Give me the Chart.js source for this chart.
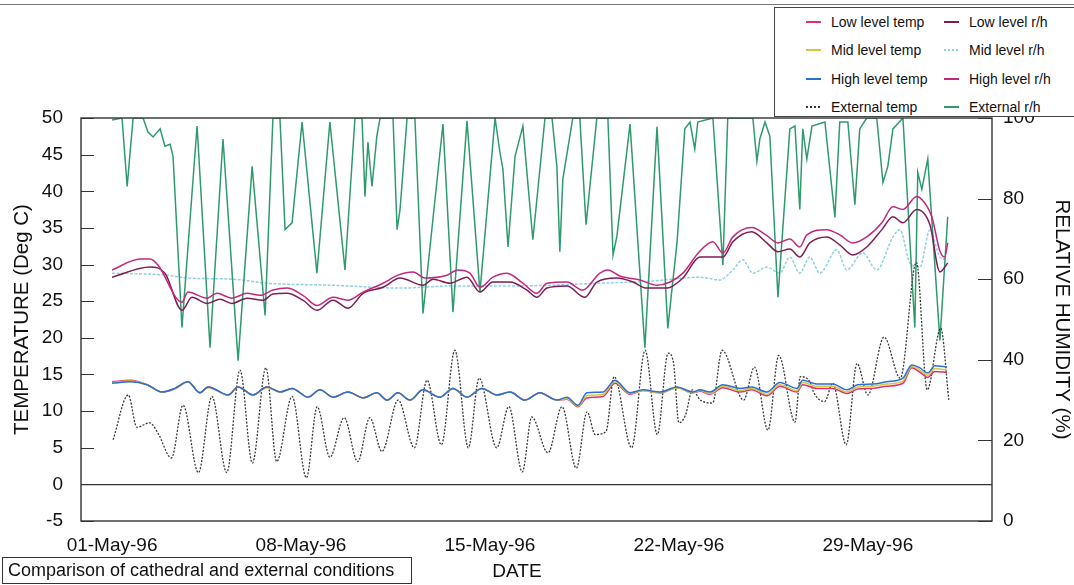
<!DOCTYPE html>
<html>
<head>
<meta charset="utf-8">
<title>Cathedral and external conditions</title>
<script src="https://cdn.jsdelivr.net/npm/chart.js@4.4.1/dist/chart.umd.min.js"></script>
<style>
  html, body { margin: 0; padding: 0; background: #fff; }
  #wrap { position: relative; width: 1074px; height: 585px; overflow: hidden;
          font-family: "Liberation Sans", Arial, sans-serif; color: #111; }
  #topRule { position: absolute; left: 0; top: 4px; width: 1074px; border-top: 1px solid #777; }
  #legend { position: absolute; left: 774px; top: 7px; width: 320px; height: 108px;
            background: #fff; border: 1px solid #444; font-size: 14px; }
  .item { position: absolute; white-space: nowrap; height: 16px; line-height: 16px; }
  .swatch { position: absolute; left: 0; top: 7px; width: 15px; height: 2px; }
  .txt { position: absolute; left: 25px; top: 0; }
  #dateTitle { position: absolute; left: 517px; top: 571px; transform: translate(-50%, -50%);
               font-size: 19px; }
  #caption { position: absolute; left: 2px; top: 557px; width: 410px; height: 27px;
             border: 1px solid #333; box-sizing: border-box; padding-left: 5px;
             font-size: 18px; line-height: 25px; white-space: nowrap; }
</style>
</head>
<body>
<div id="wrap">
  <canvas id="chart" width="1074" height="585"></canvas>
  <div id="topRule"></div>
  <div id="legend"></div>
  <div id="dateTitle">DATE</div>
  <div id="caption">Comparison of cathedral and external conditions</div>
</div>
<script>
// x values are days since 01-May-96 00:00
const dateLabels = ['01-May-96', '08-May-96', '15-May-96', '22-May-96', '29-May-96'];
const labelDays  = [0, 7, 14, 21, 28];

// cathedral air temperatures (deg C)
const cathTempDays = [0, 0.67, 1.3, 1.85, 2.33, 2.81, 3.26, 3.56, 4.3, 4.67,
  5.22, 5.74, 6.22, 6.67, 7.26, 7.7, 8.19, 8.74, 9.3, 9.81,
  10.19, 10.59, 11.04, 11.52, 12.15, 12.63, 13.15, 13.7, 14.26, 14.74,
  15.3, 15.85, 16.48, 16.85, 17.26, 17.59, 18.19, 18.63, 19.19, 19.67,
  20.3, 20.93, 21.52, 21.78, 22.15, 22.63, 23.26, 23.7, 24.26, 24.74,
  25.37, 25.59, 26.11, 26.7, 27.22, 27.63, 28.19, 28.7, 29.3, 29.63,
  29.93, 30.22, 30.48, 30.93];
const highTemp = [13.8, 14.0, 13.6, 12.6, 13.1, 14.0, 12.5, 13.3, 12.2, 13.3,
  12.2, 13.3, 12.6, 13.1, 11.9, 12.9, 11.9, 12.6, 11.8, 12.5,
  11.5, 12.5, 11.5, 12.9, 11.9, 13.1, 11.9, 13.1, 12.2, 12.6,
  11.5, 12.5, 11.5, 11.9, 10.8, 12.5, 12.6, 14.2, 12.5, 12.9,
  12.6, 13.3, 12.6, 12.9, 12.6, 13.6, 13.1, 13.3, 12.6, 13.9,
  13.1, 14.2, 13.7, 13.7, 12.9, 13.6, 13.7, 14.0, 14.5, 16.3,
  15.9, 15.2, 16.2, 16.0];
const midTemp = [13.9, 14.1, 13.6, 12.6, 13.0, 14.0, 12.5, 13.2, 12.2, 13.3,
  12.2, 13.2, 12.6, 13.1, 11.9, 12.9, 11.9, 12.6, 11.8, 12.5,
  11.5, 12.5, 11.5, 12.9, 11.9, 13.1, 11.9, 13.1, 12.2, 12.6,
  11.5, 12.5, 11.5, 11.7, 10.7, 12.1, 12.3, 14.0, 12.4, 12.8,
  12.5, 13.2, 12.5, 12.8, 12.4, 13.4, 12.8, 13.1, 12.3, 13.6,
  12.8, 13.9, 13.4, 13.4, 12.6, 13.3, 13.4, 13.7, 14.1, 16.1,
  15.6, 14.9, 15.8, 15.6];
const lowTemp = [14.0, 14.2, 13.6, 12.6, 13.1, 14.0, 12.5, 13.3, 12.2, 13.3,
  12.2, 13.3, 12.6, 13.1, 11.9, 12.9, 11.9, 12.6, 11.8, 12.5,
  11.5, 12.5, 11.5, 12.9, 11.9, 13.1, 11.9, 13.1, 12.2, 12.6,
  11.5, 12.5, 11.5, 11.6, 10.6, 11.8, 12.0, 13.8, 12.3, 12.8,
  12.5, 13.2, 12.5, 12.7, 12.3, 13.2, 12.6, 12.9, 12.1, 13.4,
  12.6, 13.6, 13.1, 13.1, 12.4, 13.0, 13.1, 13.4, 13.8, 15.9,
  15.3, 14.6, 15.4, 15.3];

// external air temperature (deg C)
const extTempDays = [0.04, 0.6, 0.92, 1.4, 1.7, 2.2, 2.63, 3.2, 3.7, 4.25,
  4.74, 5.2, 5.7, 6.1, 6.67, 7.2, 7.6, 8.07, 8.6, 9.1,
  9.55, 10.0, 10.6, 11.2, 11.67, 12.2, 12.7, 13.2, 13.6, 14.25,
  14.7, 15.2, 15.55, 16.15, 16.67, 17.2, 17.6, 17.9, 18.3, 18.6,
  19.25, 19.75, 20.2, 20.6, 20.8, 21.0, 21.25, 21.5, 21.8, 22.25,
  22.6, 23.4, 23.8, 24.3, 24.7, 25.3, 25.5, 25.85, 26.0, 26.4,
  26.7, 27.2, 27.6, 28.0, 28.6, 29.2, 29.8, 30.2, 30.7, 31.0];
const extTemp = [6.1, 12.2, 7.8, 8.4, 7.0, 3.6, 10.8, 1.6, 12.0, 1.6,
  15.6, 2.9, 15.9, 3.1, 12.0, 0.9, 10.6, 3.7, 9.1, 3.1,
  9.1, 4.5, 11.5, 5.0, 14.2, 5.4, 18.3, 5.0, 14.5, 5.0,
  10.6, 1.7, 9.2, 4.3, 10.6, 2.2, 9.9, 6.8, 7.2, 14.7,
  5.0, 18.3, 6.8, 17.9, 16.6, 8.4, 9.5, 12.9, 11.5, 11.1,
  18.3, 11.5, 16.0, 7.4, 17.6, 8.5, 14.7, 14.0, 12.5, 11.3,
  13.8, 5.4, 16.5, 12.2, 20.1, 14.5, 30.3, 12.9, 21.3, 11.5];

// cathedral relative humidity (%)
const highRhDays = [0, 1.04, 1.41, 1.7, 2.59, 2.81, 3.52, 3.89, 4.44, 5.0,
  5.48, 5.96, 6.48, 7.07, 7.59, 8.19, 8.74, 9.3, 10.04, 10.59,
  11.15, 11.59, 12.41, 12.81, 13.26, 13.63, 14.11, 14.63, 15.22, 15.74,
  16.11, 16.85, 17.44, 18.07, 18.37, 18.81, 19.56, 20.19, 20.67, 21.15,
  21.78, 22.26, 22.63, 23.0, 23.7, 24.26, 24.67, 25.11, 25.48, 25.74,
  26.48, 26.96, 27.44, 27.96, 28.52, 28.93, 29.3, 29.81, 30.0, 30.37,
  30.67, 30.85, 30.96];
const highRh = [62.3, 65.0, 65.0, 63.5, 54.3, 56.8, 55.3, 56.5, 55.3, 56.5,
  56.0, 57.3, 57.8, 56.0, 53.5, 55.5, 54.8, 56.8, 59.0, 61.0,
  61.8, 60.3, 61.0, 62.3, 61.5, 58.0, 60.5, 61.5, 59.0, 56.5,
  59.0, 59.3, 57.3, 61.5, 62.3, 60.8, 59.8, 58.5, 59.3, 61.5,
  67.0, 69.3, 66.5, 70.5, 72.8, 70.8, 69.0, 70.0, 68.0, 71.0,
  72.3, 71.0, 69.0, 70.5, 74.0, 78.0, 77.3, 80.5, 79.8, 75.5,
  67.0, 65.5, 69.0];

const lowRhDays = [0, 1.41, 1.96, 2.59, 2.96, 3.52, 4.0, 4.44, 5.0, 5.59,
  5.96, 6.48, 7.07, 7.59, 8.19, 8.74, 9.3, 10.04, 10.67, 11.52,
  11.89, 12.52, 13.15, 13.63, 14.11, 14.74, 15.37, 15.74, 16.11, 16.85,
  17.52, 17.96, 18.7, 19.3, 19.81, 20.56, 21.15, 21.78, 22.63, 23.0,
  23.7, 24.26, 24.67, 25.11, 25.48, 25.85, 26.48, 26.96, 27.44, 27.96,
  28.52, 28.93, 29.3, 29.81, 30.3, 30.67, 30.96];
const lowRh = [60.5, 63.0, 61.5, 52.3, 55.5, 54.0, 55.0, 54.0, 55.3, 54.8,
  56.3, 56.5, 54.8, 52.3, 54.8, 52.8, 56.5, 58.0, 60.3, 58.5,
  60.0, 59.0, 60.5, 56.8, 59.3, 59.3, 57.3, 55.5, 57.8, 58.3,
  55.5, 59.3, 60.3, 59.3, 57.8, 57.8, 60.3, 65.5, 65.5, 69.3,
  71.8, 69.0, 66.8, 67.5, 65.5, 69.0, 70.5, 68.5, 66.0, 68.0,
  72.3, 75.5, 74.0, 77.3, 73.5, 61.8, 64.0];

const midRhDays = [0, 2.04, 2.78, 4.48, 5.74, 8.19, 10.67, 12.52, 14.37, 16.2,
  18.07, 19.93, 21.78, 22.52, 23.0, 23.37, 23.74, 24.26, 24.74, 25.11,
  25.48, 25.85, 26.22, 26.85, 27.22, 27.81, 28.33, 28.93, 29.19, 29.56,
  29.93, 30.3, 30.67, 30.96];
const midRh = [61.5, 61.0, 60.3, 60.0, 59.0, 58.5, 57.8, 58.3, 58.3, 58.5,
  59.0, 59.5, 60.5, 59.8, 62.3, 64.8, 61.5, 63.0, 61.5, 65.5,
  61.5, 65.5, 61.5, 67.3, 62.3, 66.5, 62.3, 70.5, 72.3, 64.0,
  63.0, 72.3, 65.5, 64.8];

// external relative humidity (%)
const extRhDays = [0, 0.37, 0.56, 0.78, 1.15, 1.33, 1.52, 1.78, 1.96, 2.15,
  2.26, 2.59, 3.15, 3.63, 4.11, 4.67, 5.19, 5.67, 5.96, 6.22,
  6.41, 6.67, 7.04, 7.59, 8.07, 8.63, 9.0, 9.26, 9.37, 9.48,
  9.63, 9.81, 9.93, 10.41, 10.56, 10.67, 10.93, 11.22, 11.52, 12.26,
  12.63, 13.15, 13.63, 14.19, 14.37, 14.48, 14.67, 14.93, 15.22, 15.59,
  16.04, 16.3, 16.48, 16.59, 16.7, 17.07, 17.33, 17.56, 17.96, 18.37,
  18.56, 18.7, 19.19, 19.74, 20.19, 20.59, 20.74, 20.93, 21.22, 21.41,
  21.59, 21.7, 22.26, 22.63, 22.81, 23.74, 23.89, 24.0, 24.19, 24.37,
  24.67, 25.11, 25.3, 25.48, 25.59, 25.74, 25.93, 26.41, 26.78, 26.96,
  27.26, 27.52, 27.7, 27.96, 28.33, 28.56, 28.74, 28.93, 29.3, 29.74,
  29.85, 30.0, 30.22, 30.67, 30.96];
const extRh = [99.5, 100, 83, 100, 100, 96.5, 95.3, 97.3, 93, 93.5,
  90.5, 48, 98, 43, 94.8, 39.8, 88, 51, 100, 100,
  72.3, 74, 99, 61.5, 99, 62.3, 100, 100, 80.5, 94,
  83, 95.5, 100, 100, 72.3, 77.3, 100, 100, 51.5, 98.5,
  51.8, 99.3, 56.8, 100, 91.5, 87.3, 68, 90.5, 98, 69.8,
  100, 100, 88, 66.8, 84.8, 100, 100, 73.5, 100, 100,
  66, 70.5, 98.5, 43, 97.8, 47.8, 57.3, 69, 97.3, 99,
  92.3, 99, 100, 63.5, 100, 100, 89.3, 94.8, 99, 95.5,
  55.5, 97.3, 98, 77.3, 97.3, 89.8, 98, 99, 75.3, 99,
  99, 78.5, 97.3, 100, 100, 84, 88, 97.3, 100, 48,
  86.5, 82.3, 89.8, 44.8, 75.5];

function pts(days, vals) {
  return days.map((d, i) => ({ x: d, y: vals[i] }));
}

function line(label, days, vals, color, axis, extra) {
  return Object.assign({
    label, data: pts(days, vals), yAxisID: axis,
    borderColor: color, backgroundColor: color,
    borderWidth: 1.5, pointRadius: 0, fill: false,
    cubicInterpolationMode: 'monotone'
  }, extra || {});
}

// first dataset is drawn on top
const datasets = [
  line('High level temp', cathTempDays, highTemp, '#2a6fd2', 'yT'),
  line('Mid level temp',  cathTempDays, midTemp,  '#d2c845', 'yT'),
  line('Low level temp',  cathTempDays, lowTemp,  '#e0306a', 'yT'),
  line('External temp',   extTempDays,  extTemp,  '#3a3a3a', 'yT', { borderWidth: 1.3, borderDash: [2, 1.5] }),
  line('High level r/h',  highRhDays,   highRh,   '#c4287e', 'yRH'),
  line('Low level r/h',   lowRhDays,    lowRh,    '#7c1d55', 'yRH'),
  line('External r/h',    extRhDays,    extRh,    '#2f9a6e', 'yRH', { cubicInterpolationMode: 'default', tension: 0 }),
  line('Mid level r/h',   midRhDays,    midRh,    '#8fd0e4', 'yRH', { borderDash: [3, 1.5] })
];

// plot frame and inward tick marks on both value axes
const frame = {
  id: 'frame',
  afterDraw(chart) {
    const { ctx, chartArea: a, scales } = chart;
    ctx.save();
    ctx.strokeStyle = '#333';
    ctx.lineWidth = 1.4;
    ctx.strokeRect(a.left, a.top, a.right - a.left, a.bottom - a.top);
    ctx.lineWidth = 1.2;
    ctx.beginPath();
    scales.yT.ticks.forEach(t => {
      const y = Math.round(scales.yT.getPixelForValue(t.value)) + 0.5;
      ctx.moveTo(a.left, y); ctx.lineTo(a.left + 13, y);
    });
    scales.yRH.ticks.forEach(t => {
      const y = Math.round(scales.yRH.getPixelForValue(t.value)) + 0.5;
      ctx.moveTo(a.right, y); ctx.lineTo(a.right - 14, y);
    });
    ctx.stroke();
    ctx.restore();
  }
};

const fontFamily = '"Liberation Sans", Arial, sans-serif';
const tickFont = { family: fontFamily, size: 19 };
const titleFont = { family: fontFamily, size: 20.5 };

const chart = new Chart(document.getElementById('chart'), {
  type: 'line',
  data: { datasets },
  options: {
    responsive: false,
    animation: false,
    devicePixelRatio: 1,
    layout: { padding: { top: 118, left: 0, right: 0, bottom: 0 } },
    plugins: { legend: { display: false }, tooltip: { enabled: false } },
    scales: {
      x: {
        type: 'linear', position: 'bottom',
        min: -1.15, max: 32.6,
        grid: { display: false, drawTicks: false },
        border: { display: false },
        afterBuildTicks: s => { s.ticks = labelDays.map(v => ({ value: v })); },
        afterFit: s => { s.height = 64; },
        ticks: {
          autoSkip: false, maxRotation: 0, padding: 13,
          color: '#111', font: tickFont,
          callback: (v, i) => dateLabels[i]
        }
      },
      yT: {
        position: 'left', min: -5, max: 50,
        grid: {
          drawTicks: false, lineWidth: 1.2,
          color: c => (c.tick && c.tick.value === 0 ? '#333' : 'rgba(0,0,0,0)')
        },
        border: { display: false },
        afterFit: s => { s.width = 81; },
        ticks: { stepSize: 5, padding: 18, color: '#111', font: tickFont },
        title: {
          display: true, text: 'TEMPERATURE (Deg C)', color: '#111',
          font: titleFont, padding: { top: 10, bottom: 0 }
        }
      },
      yRH: {
        position: 'right', min: 0, max: 100,
        grid: { display: false, drawTicks: false },
        border: { display: false },
        afterFit: s => { s.width = 82; },
        ticks: { stepSize: 20, padding: 11, color: '#111', font: tickFont },
        title: {
          display: true, text: 'RELATIVE HUMIDITY (%)', color: '#111',
          font: titleFont, padding: { top: 0, bottom: 0 }
        }
      }
    }
  },
  plugins: [frame]
});

// boxed legend in two columns: temperatures left, humidities right
const legendOrder = [
  ['Low level temp', 'Low level r/h'],
  ['Mid level temp', 'Mid level r/h'],
  ['High level temp', 'High level r/h'],
  ['External temp', 'External r/h']
];
const legendBox = document.getElementById('legend');
legendOrder.forEach((row, r) => {
  row.forEach((name, c) => {
    const ds = chart.data.datasets.find(d => d.label === name);
    const item = document.createElement('div');
    item.className = 'item';
    item.style.left = (c === 0 ? 31 : 169) + 'px';
    item.style.top = (6 + r * 28.3) + 'px';
    const sw = document.createElement('div');
    sw.className = 'swatch';
    sw.style.background = ds.borderDash
      ? `repeating-linear-gradient(90deg, ${ds.borderColor} 0 2px, transparent 2px 4px)`
      : ds.borderColor;
    const tx = document.createElement('span');
    tx.className = 'txt';
    tx.textContent = name;
    item.appendChild(sw);
    item.appendChild(tx);
    legendBox.appendChild(item);
  });
});
</script>
</body>
</html>
